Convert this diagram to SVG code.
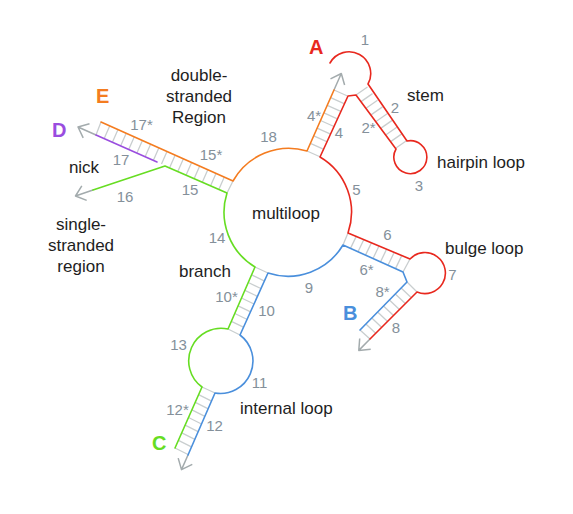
<svg xmlns="http://www.w3.org/2000/svg" width="573" height="514" viewBox="0 0 573 514">
<style>
.st{fill:none;stroke-width:1.6;stroke-linejoin:round;stroke-linecap:round}
.red{stroke:#e8281e}.org{stroke:#f47c20}.grn{stroke:#66dd22}.blu{stroke:#4a8fdc}.pur{stroke:#9a4ddf}
.rung{fill:none;stroke:#c9cecf;stroke-width:1.3}
.arr{fill:none;stroke:#a3abad;stroke-width:1.5;stroke-linejoin:round}
text{font-family:"Liberation Sans",Arial,sans-serif}
.lbl{font-size:17px;fill:#1e1e1e}
.num{font-size:15px;fill:#84909a}
.let{font-size:20px;font-weight:bold}
</style>
<rect width="573" height="514" fill="#fff"/>
<g id="rungs">
<path class="rung" d="M307 151l13.5 6M310.4 143.4l13.5 6M313.8 135.8l13.5 6M317.1 128.1l13.5 6M320.5 120.5l13.5 6M323.9 112.9l13.5 6M327.3 105.3l13.5 6M330.6 97.6l13.5 6M334 90l13.5 6"/>
<path class="rung" d="M356 95l11.5 -8M361 101.6l11.5 -8M366 108.3l11.5 -8M371 114.9l11.5 -8M376 121.5l11.5 -8M381 128.1l11.5 -8M386 134.8l11.5 -8M391 141.4l11.5 -8M396 148l11.5 -8"/>
<path class="rung" d="M343 245l5 -12M350.5 248.4l6 -12.5M358 251.8l6 -12.5M365.5 255.1l6 -12.5M373 258.5l6 -12.5M380.5 261.9l6 -12.5M388 265.3l6 -12.5M395.5 268.6l6 -12.5M403 272l7 -13"/>
<path class="rung" d="M407 282l10 10M401.1 288l10 9.5M395.3 294l10 9.5M389.4 300l10 9.5M383.5 306l10 9.5M377.6 312l10 9.5M371.8 318l10 9.5M365.9 324l10 9.5M360 330l10 9"/>
<path class="rung" d="M255 267l13 6M251.6 274.8l12.5 6M248.3 282.5l12.5 6M244.9 290.3l12.5 6M241.5 298l12.5 6M238.1 305.8l12.5 6M234.8 313.5l12.5 6M231.4 321.3l12.5 6M228 329l12 6"/>
<path class="rung" d="M202 387l13 6M198.6 394.6l13 6.5M195.3 402.3l13 6.5M191.9 409.9l13 6.5M188.5 417.5l13 6.5M185.1 425.1l13 6.5M181.8 432.8l13 6.5M178.4 440.4l13 6.5M175 448l13 6.5"/>
<path class="rung" d="M227 193l6 -12M218.8 189.4l5.5 -12.5M210.6 185.8l5.5 -12.5M202.4 182.1l5.5 -12.5M194.2 178.5l5.5 -12.5M186.1 174.9l5.5 -12.5M177.9 171.3l5.5 -12.5M169.7 167.6l5.5 -12.5M161.5 164l5.5 -12.5M153.3 160.4l5.5 -12.5M145.1 156.8l5.5 -12.5M136.9 153.1l5.5 -12.5M128.7 149.5l5.5 -12.5M120.6 145.9l5.5 -12.5M112.4 142.3l5.5 -12.5M104.2 138.6l5.5 -12.5M96 135l5 -13"/>
</g>
<g id="arrows">
<path class="arr" d="M334 90L341.3 73.5M330.5 78.8L341.3 73.5L344.6 85"/>
<path class="arr" d="M370 339L358.8 350.4M370.7 349.3L358.8 350.4L359.7 338.5"/>
<path class="arr" d="M188 455L181.5 469.6M192.3 464.3L181.5 469.6L178.2 458.1"/>
<path class="arr" d="M96 135L78 127M83.2 137.8L78 127L89.5 123.7"/>
<path class="arr" d="M93 190L75.5 196M86.7 200.4L75.5 196L81.8 185.8"/>
</g>
<g id="strands">
<path id="strand-red" class="st red" d="M330 63A21.5 21.5 0 1 1 368 84L407 141A16.5 16.5 0 1 1 396 149L356 95L348 96L320 157A64 64 0 0 1 348 233L410 259A20.5 20.5 0 1 1 417 292L370 339"/>
<path id="strand-orange" class="st org" d="M101 122L233 181A64 64 0 0 1 307 151L334 90"/>
<path id="strand-green" class="st grn" d="M93 190L165 166L227 193A64 64 0 0 0 255 267L228 329A32.5 32.5 0 0 0 202 387L175 448"/>
<path id="strand-blue" class="st blu" d="M188 455L215 393A32.5 32.5 0 0 0 240 335L268 273A64 64 0 0 0 343 245L403 272L407 282L360 330"/>
<path id="strand-purple" class="st pur" d="M96 135L157 162"/>
</g>
<g id="letters" class="let">
<text x="309" y="54" fill="#e8281e">A</text>
<text x="343" y="320" fill="#4a8fdc">B</text>
<text x="152" y="450" fill="#66dd22">C</text>
<text x="52" y="137" fill="#9a4ddf">D</text>
<text x="96" y="103" fill="#f47c20">E</text>
</g>
<g id="labels" class="lbl">
<text x="199" y="81" text-anchor="middle">double-</text>
<text x="199" y="102" text-anchor="middle">stranded</text>
<text x="199" y="123" text-anchor="middle">Region</text>
<text x="407" y="101">stem</text>
<text x="437" y="168">hairpin loop</text>
<text x="445" y="254">bulge loop</text>
<text x="240" y="414">internal loop</text>
<text x="286" y="219" text-anchor="middle">multiloop</text>
<text x="205" y="277" text-anchor="middle">branch</text>
<text x="84" y="173" text-anchor="middle">nick</text>
<text x="81" y="230" text-anchor="middle">single-</text>
<text x="81" y="251" text-anchor="middle">stranded</text>
<text x="81" y="272" text-anchor="middle">region</text>
</g>
<g id="numbers" class="num" text-anchor="middle">
<text x="365" y="45">1</text>
<text x="395" y="113">2</text>
<text x="368.5" y="133">2*</text>
<text x="419" y="191">3</text>
<text x="314" y="121">4*</text>
<text x="339" y="138">4</text>
<text x="356.5" y="195">5</text>
<text x="387.5" y="240">6</text>
<text x="366.5" y="275">6*</text>
<text x="452.5" y="280">7</text>
<text x="382.5" y="297">8*</text>
<text x="396" y="333">8</text>
<text x="309" y="293">9</text>
<text x="226.5" y="302">10*</text>
<text x="266.5" y="316">10</text>
<text x="259.5" y="388">11</text>
<text x="177.5" y="415">12*</text>
<text x="214.5" y="431">12</text>
<text x="178.5" y="350">13</text>
<text x="217" y="243">14</text>
<text x="211" y="160">15*</text>
<text x="190" y="195">15</text>
<text x="125" y="202">16</text>
<text x="141.5" y="130">17*</text>
<text x="121" y="165">17</text>
<text x="268.5" y="141.5">18</text>
</g>
</svg>
